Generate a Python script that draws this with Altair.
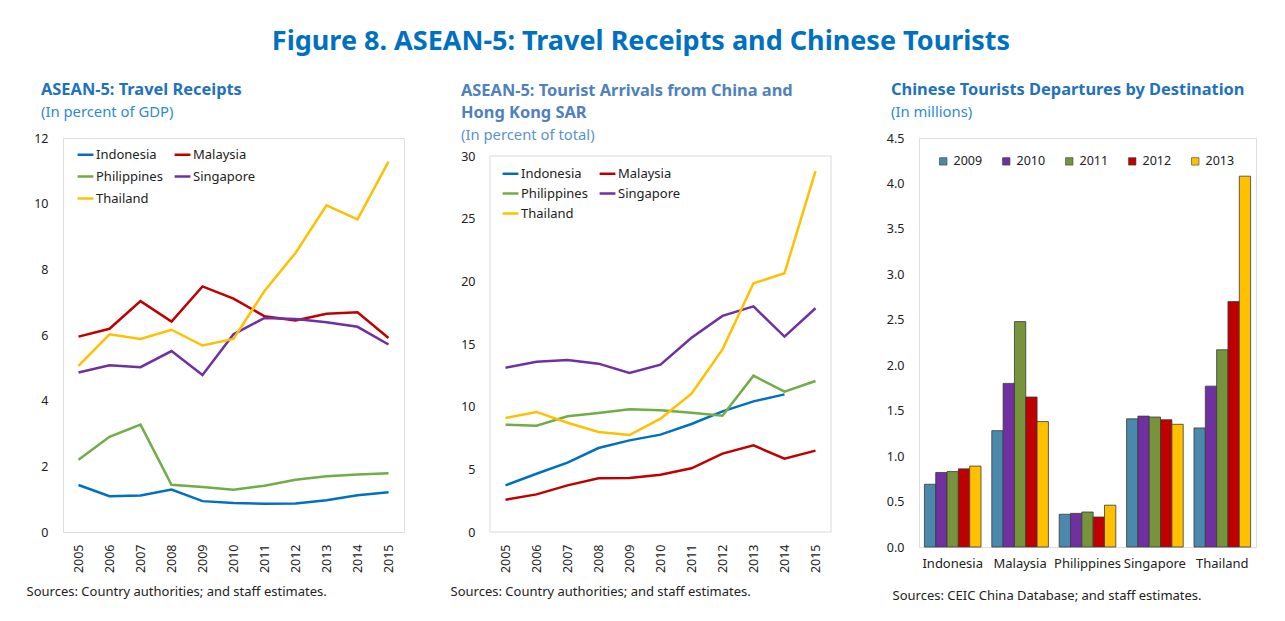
import altair as alt
import pandas as pd

FONT = "Noto Sans"
years = [str(y) for y in range(2005, 2016)]
countries = ["Indonesia", "Malaysia", "Philippines", "Singapore", "Thailand"]
line_colors = ["#0070C0", "#C00000", "#70AD47", "#7030A0", "#FFC000"]

# Panel 1: travel receipts (percent of GDP)
rec_indonesia = [1.43, 1.09, 1.11, 1.29, 0.94, 0.88, 0.86, 0.87, 0.97, 1.12, 1.21]
rec_malaysia = [5.95, 6.19, 7.03, 6.41, 7.48, 7.11, 6.57, 6.44, 6.65, 6.69, 5.91]
rec_philippines = [2.20, 2.90, 3.27, 1.44, 1.37, 1.29, 1.41, 1.59, 1.70, 1.75, 1.79]
rec_singapore = [4.86, 5.08, 5.02, 5.51, 4.78, 6.02, 6.52, 6.49, 6.39, 6.25, 5.71]
rec_thailand = [5.06, 6.02, 5.88, 6.16, 5.68, 5.88, 7.34, 8.50, 9.95, 9.52, 11.28]

# Panel 2: tourist arrivals from China and HK SAR (percent of total)
arr_indonesia = [3.72, 4.65, 5.53, 6.70, 7.31, 7.77, 8.62, 9.63, 10.42, 10.98, None]
arr_malaysia = [2.58, 3.00, 3.72, 4.28, 4.31, 4.57, 5.08, 6.25, 6.91, 5.85, 6.49]
arr_philippines = [8.56, 8.48, 9.23, 9.50, 9.79, 9.71, 9.52, 9.28, 12.47, 11.20, 12.05]
arr_singapore = [13.11, 13.59, 13.72, 13.43, 12.69, 13.35, 15.50, 17.24, 18.00, 15.59, 17.85]
arr_thailand = [9.10, 9.58, 8.72, 7.98, 7.74, 9.04, 11.04, 14.57, 19.84, 20.64, 28.80]

# Panel 3: Chinese tourist departures by destination (millions)
bar_years = ["2009", "2010", "2011", "2012", "2013"]
bar_colors = ["#4A89AC", "#7030A0", "#77933C", "#C00000", "#FFC000"]
dep_indonesia = [0.69, 0.82, 0.83, 0.86, 0.89]
dep_malaysia = [1.28, 1.80, 2.48, 1.65, 1.38]
dep_philippines = [0.36, 0.37, 0.385, 0.33, 0.46]
dep_singapore = [1.41, 1.44, 1.43, 1.40, 1.35]
dep_thailand = [1.31, 1.77, 2.17, 2.70, 4.08]

SRC1 = "Sources: Country authorities; and staff estimates."
SRC3 = "Sources: CEIC China Database; and staff estimates."


def long_df(series, xs, xname):
    rows = []
    for c, vals in zip(countries, series):
        for x, v in zip(xs, vals):
            rows.append({xname: x, "Country": c, "Value": v})
    return pd.DataFrame(rows)


df1 = long_df([rec_indonesia, rec_malaysia, rec_philippines, rec_singapore, rec_thailand], years, "Year")
df2 = long_df([arr_indonesia, arr_malaysia, arr_philippines, arr_singapore, arr_thailand], years, "Year")
df3 = long_df([dep_indonesia, dep_malaysia, dep_philippines, dep_singapore, dep_thailand], bar_years, "Year")

LABEL = "#222222"
H = 394
W = 341
TFS = 16.4
SFS = 14.8


def panel_title(lines, subtitle, tcolor, scolor, dx, offset):
    return alt.TitleParams(
        text=lines, subtitle=subtitle, anchor="start", frame="group",
        dx=dx, offset=offset, fontSize=TFS, fontWeight="bold", color=tcolor,
        lineHeight=22, subtitleFontSize=SFS, subtitleColor=scolor,
        subtitlePadding=7, font=FONT, subtitleFont=FONT)


def line_layer(df, ymax, ystep, yrange, lx, ly, rowpad, src_x, src_y):
    vals = list(range(0, ymax + 1, ystep))
    return alt.Chart(df).mark_line(strokeWidth=2.5).encode(
        x=alt.X("Year:O", axis=alt.Axis(
            labelAngle=-90, labelPadding=12, ticks=False, domain=False, grid=False,
            labelFontSize=12.5, labelColor=LABEL,
            title=SRC1, titleX=src_x, titleY=src_y, titleAlign="left",
            titleBaseline="middle", titleFontWeight="normal", titleFontSize=13,
            titleColor=LABEL)),
        y=alt.Y("Value:Q", scale=alt.Scale(domain=[0, ymax], nice=False, range=yrange),
                axis=alt.Axis(values=vals, title=None, ticks=False, domain=False, grid=False,
                              labelPadding=15, labelFontSize=12.5, labelColor=LABEL)),
        color=alt.Color("Country:N", scale=alt.Scale(domain=countries, range=line_colors),
                        legend=alt.Legend(
                            orient="none", legendX=lx, legendY=ly, columns=2,
                            direction="horizontal",
                            title=None, symbolType="stroke", symbolSize=250,
                            symbolStrokeWidth=2.5, labelFontSize=13, labelColor=LABEL,
                            labelOffset=1, rowPadding=rowpad, columnPadding=6,
                            padding=0)),
    )


p1 = line_layer(df1, 12, 2, [H, 0], 13, 7, 5, -37, 59).properties(
    width=W, height=H,
    title=panel_title(["ASEAN-5: Travel Receipts"], "(In percent of GDP)",
                      "#1F72BE", "#2E8AD6", -22, 12),
)

# Panel 2: plot area starts 18px lower; frame drawn through the y scale
TOP2 = 18
lines2 = line_layer(df2, 30, 5, [H, TOP2], 11, TOP2 + 8, 3, -40, 59)
frame2 = alt.Chart(pd.DataFrame({"a": [0]})).mark_rect(
    fillOpacity=0, stroke="#D9D9D9", strokeWidth=1
).encode(x=alt.value(0), x2=alt.value(W), y=alt.datum(30), y2=alt.datum(0))
p2 = alt.layer(frame2, lines2).properties(
    width=W, height=H, view=alt.ViewBackground(strokeOpacity=0),
    title=panel_title(["ASEAN-5: Tourist Arrivals from China and", "Hong Kong SAR"],
                      "(In percent of total)", "#4F81BD", "#5B93CF", -29, -5),
)

p3 = alt.Chart(df3).mark_bar(stroke="#3A3A3A", strokeWidth=0.8).encode(
    x=alt.X("Country:N", sort=countries,
            scale=alt.Scale(paddingInner=0.16, paddingOuter=0.08),
            axis=alt.Axis(labelAngle=0, labelPadding=10, ticks=False, domain=False, grid=False,
                          labelFontSize=13, labelColor=LABEL,
                          title=SRC3, titleX=-27, titleY=48, titleAlign="left",
                          titleBaseline="middle", titleFontWeight="normal",
                          titleFontSize=13, titleColor=LABEL)),
    xOffset=alt.XOffset("Year:N", sort=bar_years,
                        scale=alt.Scale(paddingInner=0, paddingOuter=0)),
    y=alt.Y("Value:Q", scale=alt.Scale(domain=[0, 4.5], nice=False),
            axis=alt.Axis(values=[0, 0.5, 1, 1.5, 2, 2.5, 3, 3.5, 4, 4.5], format=".1f",
                          title=None, ticks=False, domain=False, grid=False, labelPadding=15,
                          labelFontSize=12.5, labelColor=LABEL)),
    color=alt.Color("Year:N", scale=alt.Scale(domain=bar_years, range=bar_colors),
                    legend=alt.Legend(orient="none", legendX=18, legendY=17,
                                      direction="horizontal", columns=5, title=None,
                                      symbolType="square", symbolSize=55,
                                      symbolStrokeColor="#3A3A3A", symbolStrokeWidth=0.6,
                                      labelFontSize=12.5, labelColor=LABEL,
                                      labelOffset=4, columnPadding=17, padding=0)),
).properties(
    width=337, height=409,
    title=panel_title(["Chinese Tourists Departures by Destination"], "(In millions)",
                      "#1F72BE", "#2E8AD6", -28, 12),
)

left = alt.hconcat(p1, p2, spacing=45).resolve_scale(color="independent").resolve_legend(
    color="independent")
chart = alt.hconcat(left, p3, spacing=53).resolve_scale(color="independent").resolve_legend(
    color="independent").properties(
    title=alt.TitleParams(
        "Figure 8. ASEAN-5: Travel Receipts and Chinese Tourists", anchor="middle",
        fontSize=27, fontWeight="bold", color="#0070C0", font=FONT, offset=25),
    padding={"left": 17, "top": 20, "right": 5, "bottom": 5},
).configure_view(stroke="#D9D9D9", strokeWidth=1).configure_axis(
    grid=False, labelFont=FONT, titleFont=FONT
).configure_legend(labelFont=FONT).configure(font=FONT)

chart.save("out.html", embed_options={"renderer": "svg", "actions": False})
